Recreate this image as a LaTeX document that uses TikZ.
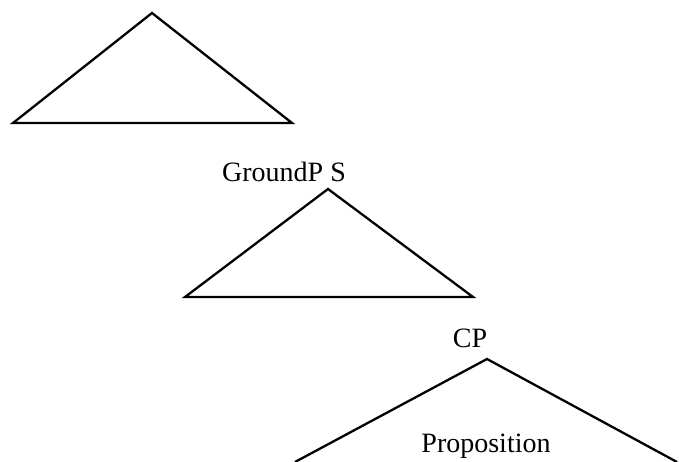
\documentclass[tikz,border=0pt]{standalone}
\usepackage{fontspec}
\setmainfont{Liberation Serif}
\begin{document}
\begin{tikzpicture}[x=1pt,y=-1pt,
  lbl/.style={font=\fontsize{28}{30}\selectfont, inner sep=0pt, anchor=base},
  tri/.style={draw=black, line width=2.3pt, line join=miter}]
\useasboundingbox (0,0) rectangle (679,462);
\clip (0,0) rectangle (679,462);
% top level, label cut off by the page edge
\node[lbl, anchor=base west] (top) at (6,-0.6) {GroundP};
\coordinate (a1) at (152,13);
\coordinate (l1) at (13,123);
\coordinate (r1) at (292,123);
\draw[tri] (a1) -- (l1) -- (r1) -- cycle;
% second level
\node[lbl] (gp) at (284,182) {GroundP S};
\coordinate (a2) at (328,189);
\coordinate (l2) at (185,297);
\coordinate (r2) at (473,297);
\draw[tri] (a2) -- (l2) -- (r2) -- cycle;
% third level
\node[lbl] (cp) at (470,347) {CP};
\coordinate (a3) at (487,359);
\coordinate (l3) at (295,462);
\coordinate (r3) at (677,462);
\draw[tri] (l3) -- (a3) -- (r3);
\node[lbl] (prop) at (486,452) {Proposition};
\end{tikzpicture}
\end{document}
